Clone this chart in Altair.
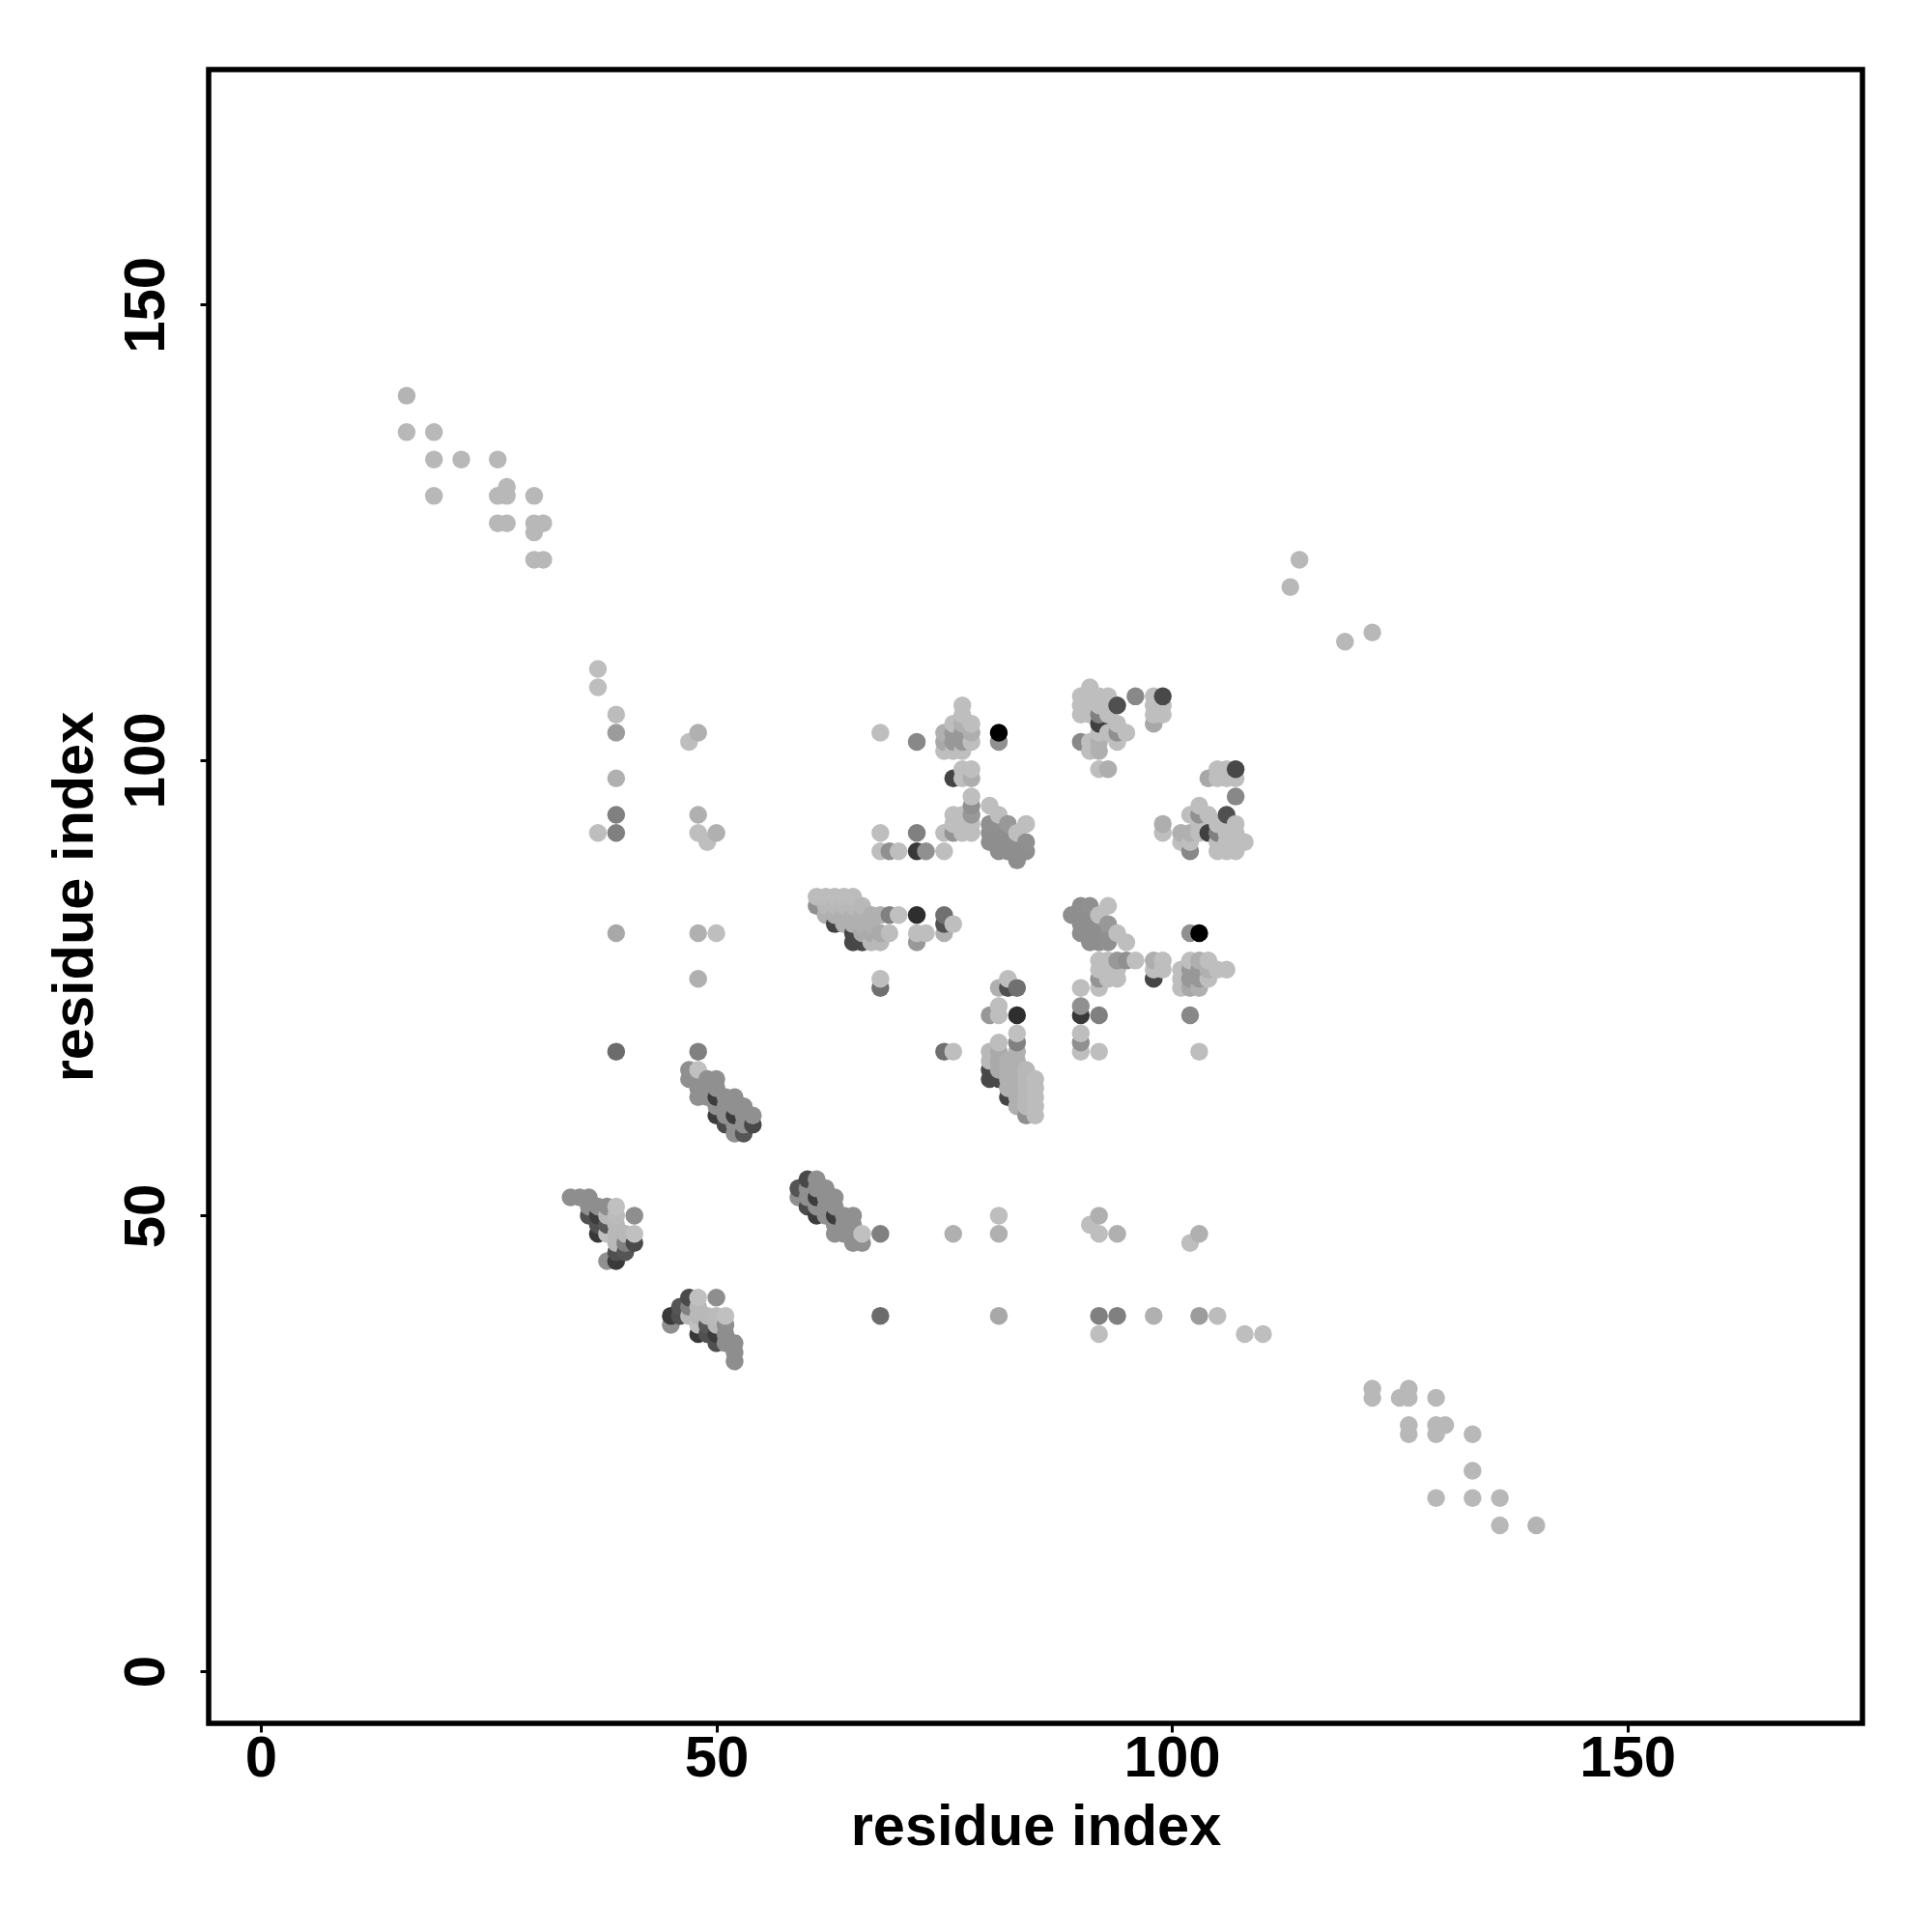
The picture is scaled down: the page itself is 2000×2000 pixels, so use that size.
import altair as alt
import pandas as pd

# Contact map: each contact is (residue i, residue j, grey level 0-255); the map is symmetric.
L = 0xBE
G = 0x8E

terminal_contacts = [
    (16,140,0xB4),(16,136,0xB8),(19,136,0xB8),(19,133,0xB8),(22,133,0xB8),(19,129,0xB8),
    (26,133,0xB8),(26,129,0xB8),(27,130,0xB8),(27,129,0xB8),(26,126,0xB8),(27,126,0xB8),
    (30,129,0xB8),(30,126,0xB8),(30,125,0xB8),(31,126,0xB8),(30,122,0xB8),(31,122,0xB8),
    (113,119,0xB8),(114,122,0xB8),
]
sparse_contacts = [
    (37,92,L),(37,108,L),(37,110,L),(39,92,0x80),(39,94,0x80),(39,98,0xB0),(39,103,0x9C),
    (39,105,0xBC),(39,81,0xA8),(39,68,0x6C),(47,102,L),(48,103,0xB0),(48,94,0xB0),(48,92,L),
    (49,91,L),(50,92,0xB0),(48,81,0xB0),(50,81,L),(48,76,0xB0),(48,68,0x80),
    (68,92,L),(68,90,L),(69,90,0x90),(70,90,L),(72,90,0x38),(72,92,0x80),(73,90,0x90),
    (75,90,L),(75,92,L),(68,103,L),(72,102,0x88),(68,75,0x70),(68,76,L),(72,80,0x98),
    (72,81,L),(73,81,L),(72,83,0x2E),(75,81,0xB0),(75,82,0x50),(75,83,0x70),(76,82,L),
    (75,68,0x70),(76,68,L),
]
cluster_a = [
    (34,52,G),(35,52,G),(36,52,G),(36,51,G),(37,51,G),(38,51,G),(39,51,0xC0),
    (36,50,0x50),(37,50,0x3C),(38,50,0xB8),(39,50,0xBB),(41,50,G),
    (37,49,0x50),(38,49,0x58),(39,49,0xB8),(37,48,0x38),(38,48,0xC0),(39,48,0xB8),
    (40,48,0xB8),(41,48,0xC0),(39,47,0xB8),(40,47,0x80),(41,47,0x4A),
    (39,46,0x50),(40,46,0x55),(38,45,0x90),(39,45,0x3A),
]
cluster_c = [
    (47,66,0x90),(48,66,0xC0),(47,65,0x90),(48,65,0x90),(49,65,0x90),(50,65,0x90),
    (48,64,0x90),(49,64,0x90),(50,64,0x90),(48,63,0x90),(49,63,0x90),(50,63,0x3C),
    (51,63,0x90),(52,63,0x90),(50,62,0x90),(51,62,0x90),(52,62,0x90),(53,62,0x90),
    (50,61,0x3C),(51,61,0x90),(52,61,0x3C),(53,61,0x90),(54,61,0x90),
    (51,60,0x4A),(52,60,0x90),(53,60,0x90),(54,60,0x48),(52,59,0x90),(53,59,0x55),
]
cluster_d = [
    (61,85,0xBC),(62,85,0xBC),(63,85,0xBC),(64,85,0xBC),(65,85,0xBC),
    (61,84,0x90),(62,84,0xB8),(63,84,0xB8),(64,84,0xB8),(65,84,0xB8),(66,84,0xB8),
    (62,83,0xB0),(63,83,0xB0),(64,83,0xB0),(65,83,0xB0),(66,83,0xB0),(67,83,0xB0),(68,83,0xB0),
    (69,83,0x80),(70,83,0xC0),
    (63,82,0x44),(64,82,0xB0),(65,82,0xB0),(66,82,0xB0),(67,82,0xB0),
    (65,81,0x48),(66,81,0xAA),(67,81,0xAA),(68,81,0xAA),(69,81,0xBD),
    (65,80,0x48),(66,80,0x48),(67,80,0xB8),(68,80,0xB8),
]
cluster_e = [
    (75,101,L),(75,102,0xA8),(75,103,0xB0),(76,101,L),(76,102,0x98),(76,103,0x98),(76,104,L),
    (77,101,L),(77,102,0x98),(77,103,0x98),(77,104,0xB0),(77,105,L),(77,106,L),
    (78,102,L),(78,103,0xAE),(78,104,L),(81,102,0x90),(81,103,0x00),
    (76,98,0x44),(77,98,L),(77,99,L),(78,98,0xAE),(78,99,L),
    (76,92,0x94),(76,93,L),(76,94,L),(77,92,L),(77,93,L),(77,94,L),
    (78,92,L),(78,93,L),(78,94,0x98),(78,95,0x90),(78,96,L),
]
cluster_h = [
    (80,95,L),(81,94,L),(80,93,0x90),(81,93,0x90),(82,93,0x98),(84,93,L),
    (80,92,G),(81,92,G),(82,92,G),(83,92,L),(80,91,G),(81,91,G),(82,91,G),(83,91,G),(84,91,0x90),
    (81,90,G),(82,90,G),(83,90,G),(84,90,G),(83,89,G),
]
cluster_f = [
    (90,102,0x88),(90,105,L),(90,106,L),(90,107,L),
    (91,101,L),(91,102,L),(91,105,L),(91,106,L),(91,107,L),(91,108,L),
    (92,99,L),(92,101,0xB0),(92,102,0xB0),(92,103,L),(92,104,0x40),(92,105,0x80),(92,106,L),(92,107,L),
    (93,99,0xAE),(93,103,L),(93,105,L),(93,106,L),(93,107,L),
    (94,102,L),(94,103,0x90),(94,104,L),(94,106,0x50),(95,103,L),(96,107,0x88),
    (98,104,0xA8),(98,105,L),(98,106,L),(98,107,L),(99,105,L),(99,106,L),(99,107,0x48),
]

contacts = (terminal_contacts + sparse_contacts + cluster_a + cluster_c
            + cluster_d + cluster_e + cluster_h + cluster_f)

tick_values = [0, 50, 100, 150]
axis_label = "residue index"

cells = {}
for i, j, g in contacts:
    cells[(i, j)] = g
    cells[(j, i)] = g
rows = [{"i": k[0], "j": k[1], "c": "#%02x%02x%02x" % (v, v, v)} for k, v in sorted(cells.items())]
df = pd.DataFrame(rows)
df["seq"] = range(len(df))

font = "Liberation Sans"
x_axis = alt.Axis(values=tick_values, title=axis_label, grid=False, domain=False, tickColor="black",
                  tickWidth=3, tickSize=9, labelFont=font, labelFontWeight="bold", labelFontSize=60,
                  labelColor="black", labelPadding=-2, labelOverlap=False, titleFont=font,
                  titleFontWeight="bold", titleFontSize=59.5, titleColor="black", titlePadding=12)
y_axis = alt.Axis(values=tick_values, title=axis_label, grid=False, domain=False, tickColor="black",
                  tickWidth=3, tickSize=9, labelFont=font, labelFontWeight="bold", labelFontSize=60,
                  labelColor="black", labelAngle=270, labelAlign="center", labelBaseline="bottom",
                  labelPadding=25, labelOverlap=False, titleFont=font, titleFontWeight="bold",
                  titleFontSize=59.5, titleColor="black", titlePadding=14)

chart = (
    alt.Chart(df)
    .mark_circle(size=342, opacity=1)
    .encode(
        x=alt.X("i:Q", scale=alt.Scale(domain=[-5.73, 175.8], nice=False, zero=False), axis=x_axis),
        y=alt.Y("j:Q", scale=alt.Scale(domain=[-5.73, 175.8], nice=False, zero=False), axis=y_axis),
        color=alt.Color("c:N", scale=None),
        order=alt.Order("seq:Q"),
    )
    .properties(width=1712, height=1712, background="white",
                autosize=alt.AutoSizeParams(type="none"),
                padding={"left": 208, "top": 64, "right": 60, "bottom": 200})
    .configure_view(stroke="black", strokeWidth=5.5)
)
chart.save("out.html", embed_options={"renderer": "svg", "actions": False})
